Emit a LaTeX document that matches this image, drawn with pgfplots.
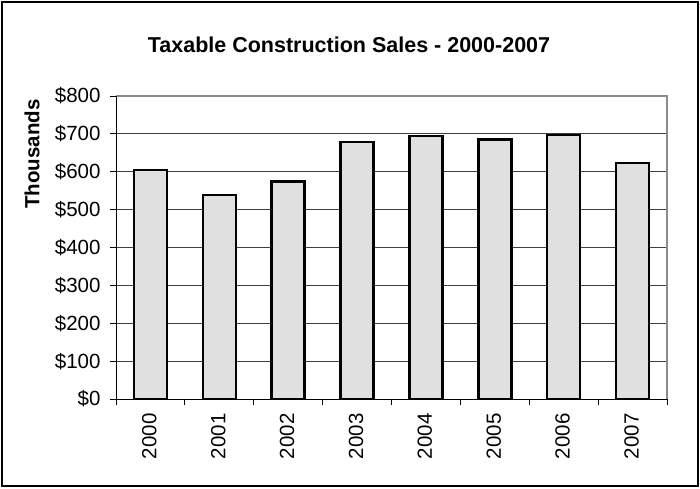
\documentclass[border=0pt]{standalone}
\usepackage{fontspec}
\setmainfont{Liberation Sans}
\usepackage{pgfplots}
\pgfplotsset{compat=1.18}
\definecolor{barfill}{HTML}{E0E0E0}
\definecolor{gridc}{HTML}{404040}
\definecolor{boxc}{HTML}{8C8C8C}
\begin{document}
\begin{tikzpicture}[x=1pt,y=1pt]
\path[use as bounding box] (0,0) rectangle (700,488);
\draw[line width=1.6pt] (2,2) rectangle (698,486);
\node[font=\bfseries\fontsize{21.5}{25}\selectfont] at (349,443) {Taxable Construction Sales - 2000-2007};
\node[font=\bfseries\fontsize{20.5}{24}\selectfont, rotate=90] at (32,334) {Thousands};
\begin{axis}[
  name=ax,
  at={(116pt,89pt)}, anchor=south west,
  scale only axis, width=551pt, height=303pt,
  xmin=-0.5, xmax=7.5, ymin=0, ymax=800,
  axis line style={draw=none},
  tick pos=left,
  ytick={0,100,...,800},
  yticklabels={\$0,\$100,\$200,\$300,\$400,\$500,\$600,\$700,\$800},
  xtick={0,...,7},
  xticklabels={2000,2001,2002,2003,2004,2005,2006,2007},
  minor xtick={-0.5,0.5,...,7.5},
  tick align=outside,
  major tick length=6pt,
  minor tick length=6pt,
  xtick style={draw=none},
  minor x tick style={draw=black, line width=1pt},
  y tick style={draw=black, line width=1pt},
  ymajorgrids,
  major grid style={draw=gridc, line width=1pt},
  tick label style={font=\fontsize{20.5}{24}\selectfont},
  x tick label style={rotate=90, anchor=east, xshift=-5pt, yshift=1pt},
  y tick label style={xshift=-6pt},
  ybar, bar width=33pt,
  clip=false,
]
\addplot[fill=barfill, draw=black, line width=2.4pt] coordinates {
(0,604) (1,539) (2,574) (3,679) (4,694) (5,685) (6,697) (7,623)};
\end{axis}
\draw[boxc, line width=2pt] (ax.north west) -- (ax.north east) -- (ax.south east);
\draw[black, line width=1pt] (ax.north west) -- (ax.south west) -- (ax.south east);
\end{tikzpicture}
\end{document}
